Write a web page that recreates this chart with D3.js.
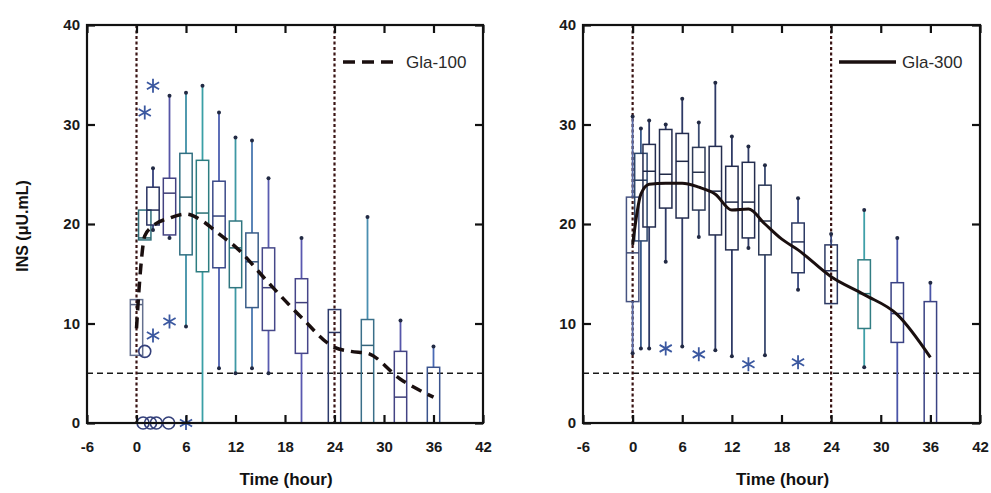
<!DOCTYPE html>
<html>
<head>
<meta charset="utf-8">
<script src="https://cdn.jsdelivr.net/npm/d3@7"></script>
<style>
  body { margin: 0; background: #fff; }
  svg { display: block; }
  text { font-family: "Liberation Sans", Arial, sans-serif; }
</style>
</head>
<body>
<div id="chart"></div>
<script>
// ---- data ----
var xTicks = [-6, 0, 6, 12, 18, 24, 30, 36, 42];
var yTicks = [0, 10, 20, 30, 40];
var refTimes = [0, 24];
var refLevel = 5;

// Gla-100 (left)
var g100Times = [0, 1, 2, 4, 6, 8, 10, 12, 14, 16, 20, 24, 28, 32, 36];
var g100Hi  = [12.4, 21.4, 25.6, 32.9, 33.2, 33.9, 31.2, 28.7, 28.4, 24.6, 18.6, 11.4, 20.7, 10.3, 7.7];
var g100Q3  = [12.4, 21.4, 23.7, 24.6, 27.1, 26.4, 24.3, 20.3, 19.1, 17.6, 14.5, 11.4, 10.4, 7.2, 5.6];
var g100Med = [11.9, 18.6, 21.4, 23.1, 22.7, 21.1, 20.8, 17.6, 16.2, 13.6, 12.1, 9.1, 7.8, 2.6, 0];
var g100Q1  = [6.8, 18.4, 19.9, 18.9, 16.9, 15.2, 15.6, 13.6, 11.6, 9.3, 7.0, 0, 0, 0, 0];
var g100Lo  = [6.8, 18.4, 19.4, 18.6, 9.7, 0, 5.5, 5.0, 5.5, 5.0, 0, 0, 0, 0, 0];
var g100CircT = [1, 0.8, 1.7, 2.4, 3.9];
var g100CircV = [7.2, 0, 0, 0, 0];
var g100StarT = [1, 2, 2, 4, 6];
var g100StarV = [31.2, 33.9, 8.8, 10.2, 0];
var g100MeanT = [0, 0.5, 1, 2, 4, 6, 8, 10, 12, 16, 20, 24, 26, 28, 32, 36];
var g100MeanV = [9.5, 15.5, 18.8, 19.8, 20.6, 21.0, 20.3, 19.0, 17.7, 14.1, 10.6, 7.6, 7.2, 7.0, 4.4, 2.6];

// Gla-300 (right)
var g300Times = [0, 1, 2, 4, 6, 8, 10, 12, 14, 16, 20, 24, 28, 32, 36];
var g300Hi  = [30.8, 29.6, 30.4, 30.0, 32.6, 30.2, 34.2, 28.8, 27.8, 25.9, 22.6, 19.0, 21.4, 18.6, 14.1];
var g300Q3  = [22.7, 27.1, 28.0, 29.5, 29.1, 27.7, 27.8, 25.8, 26.2, 23.9, 20.1, 17.9, 16.4, 14.1, 12.2];
var g300Med = [17.1, 24.4, 25.3, 25.0, 26.3, 25.2, 23.3, 22.2, 22.2, 20.3, 18.2, 15.3, 13.0, 11.0, 0];
var g300Q1  = [12.2, 18.3, 19.7, 21.6, 20.6, 21.4, 18.9, 17.4, 18.6, 16.9, 15.1, 12.0, 9.5, 8.1, 0];
var g300Lo  = [7.0, 7.5, 7.5, 16.2, 7.7, 18.7, 7.3, 6.7, 17.6, 6.8, 13.4, 12.0, 5.6, 0, 0];
var g300CircT = [];
var g300CircV = [];
var g300StarT = [4, 8, 14, 20];
var g300StarV = [7.5, 6.9, 5.9, 6.1];
var g300MeanT = [0, 1, 2, 4, 6, 8, 10, 12, 14, 16, 18, 20, 24, 28, 32, 36];
var g300MeanV = [17.9, 23.0, 24.0, 24.1, 24.1, 23.7, 23.0, 21.4, 21.5, 20.0, 18.5, 17.4, 14.7, 12.9, 10.9, 6.6];

// whisker colours per box
var g100Colors = ['#8090b8', '#3c8f9c', '#35407c', '#5655a6', '#3f8fa6', '#3aa0a6', '#4c5fb0', '#3e98a4',
                  '#4a78b0', '#5a5cb0', '#5a58b0', '#3a4a8a', '#4a8fb0', '#5656aa', '#4a6ab5'];
var g300Colors = ['#5a6aa5', '#3a5a8a', '#2e3a66', '#2e3a66', '#2e3a66', '#3a4a70', '#2e3a66', '#2e3a66',
                  '#2e3a66', '#3a4a70', '#3a4a80', '#3a4a80', '#3fa0a8', '#4a55a8', '#4a55a8'];

var width = 991, height = 493;

var svg = d3.select('#chart').append('svg')
    .attr('width', width)
    .attr('height', height);

// y axis title (shared, left)
svg.append('text')
    .attr('transform', 'translate(28,226) rotate(-90)')
    .attr('text-anchor', 'middle')
    .style('font-size', '16px')
    .style('font-weight', 'bold')
    .attr('fill', '#111')
    .text('INS (\u03bcU.mL)');

function zip(a, b) { return a.map(function(d, i) { return [d, b[i]]; }); }

function drawPanel(p) {

  var x = d3.scaleLinear().domain([-6, 42]).range([p.left, p.right]);
  var y = d3.scaleLinear().domain([0, 40]).range([423, 25]);
  var boxW = x(1.5) - x(0);

  var g = svg.append('g');

  // reference lines
  g.append('line')
      .attr('x1', x(-6)).attr('x2', x(42))
      .attr('y1', y(refLevel)).attr('y2', y(refLevel))
      .attr('stroke', '#1a1a1a').attr('stroke-width', 1.5)
      .attr('stroke-dasharray', '6,4');

  g.selectAll('.vref').data(refTimes).enter().append('line')
      .attr('x1', function(d) { return x(d); }).attr('x2', function(d) { return x(d); })
      .attr('y1', y(40)).attr('y2', y(0))
      .attr('stroke', '#3a1414').attr('stroke-width', 2.2)
      .attr('stroke-dasharray', '3,2.5');

  // boxes
  var boxes = p.times.map(function(t, i) {
    return { t: t, hi: p.hi[i], q3: p.q3[i], med: p.med[i], q1: p.q1[i], lo: p.lo[i], c: p.colors[i] };
  });

  var bg = g.selectAll('.box').data(boxes).enter().append('g').attr('class', 'box');

  bg.append('line')
      .attr('x1', function(d) { return x(d.t); }).attr('x2', function(d) { return x(d.t); })
      .attr('y1', function(d) { return y(d.hi); }).attr('y2', function(d) { return y(d.q3); })
      .attr('stroke', function(d) { return d.c; }).attr('stroke-width', 1.8);

  bg.append('line')
      .attr('x1', function(d) { return x(d.t); }).attr('x2', function(d) { return x(d.t); })
      .attr('y1', function(d) { return y(d.q1); }).attr('y2', function(d) { return y(d.lo); })
      .attr('stroke', function(d) { return d.c; }).attr('stroke-width', 1.8);

  bg.filter(function(d) { return d.hi > d.q3; }).append('circle')
      .attr('cx', function(d) { return x(d.t); })
      .attr('cy', function(d) { return y(d.hi); })
      .attr('r', 2).attr('fill', '#222a44');

  bg.filter(function(d) { return d.lo < d.q1 && d.lo > 0; }).append('circle')
      .attr('cx', function(d) { return x(d.t); })
      .attr('cy', function(d) { return y(d.lo); })
      .attr('r', 2).attr('fill', '#222a44');

  bg.append('rect')
      .attr('x', function(d) { return x(d.t) - boxW / 2; })
      .attr('y', function(d) { return y(d.q3); })
      .attr('width', boxW)
      .attr('height', function(d) { return y(d.q1) - y(d.q3); })
      .attr('fill', 'none')
      .attr('stroke', function(d) { return d3.color(d.c).darker(0.7); })
      .attr('stroke-width', 1.5);

  bg.filter(function(d) { return d.med > 0; }).append('line')
      .attr('x1', function(d) { return x(d.t) - boxW / 2; })
      .attr('x2', function(d) { return x(d.t) + boxW / 2; })
      .attr('y1', function(d) { return y(d.med); }).attr('y2', function(d) { return y(d.med); })
      .attr('stroke', function(d) { return d3.color(d.c).darker(1); })
      .attr('stroke-width', 1.5);

  // outliers
  g.selectAll('.circ').data(zip(p.circT, p.circV)).enter().append('circle')
      .attr('cx', function(d) { return x(d[0]); })
      .attr('cy', function(d) { return y(d[1]); })
      .attr('r', 6)
      .attr('fill', 'none')
      .attr('stroke', '#34407a').attr('stroke-width', 1.6);

  var star = 'M0,-7L0,7M-6.1,-3.5L6.1,3.5M-6.1,3.5L6.1,-3.5';
  g.selectAll('.star').data(zip(p.starT, p.starV)).enter().append('path')
      .attr('transform', function(d) { return 'translate(' + x(d[0]) + ',' + y(d[1]) + ')'; })
      .attr('d', star)
      .attr('fill', 'none')
      .attr('stroke', '#3b58a0').attr('stroke-width', 1.8);

  // mean line
  var line = d3.line()
      .x(function(d) { return x(d[0]); })
      .y(function(d) { return y(d[1]); })
      .curve(d3.curveMonotoneX);

  g.append('path')
      .datum(zip(p.meanT, p.meanV))
      .attr('d', line)
      .attr('fill', 'none')
      .attr('stroke', '#1a0f0f')
      .attr('stroke-width', p.dashed ? 3.5 : 3)
      .attr('stroke-dasharray', p.dashed ? '11,7' : null);

  // axes (inward ticks)
  var fmt = function(d) { return String(d); };
  var bottom = g.append('g').attr('transform', 'translate(0,' + y(0) + ')')
      .call(d3.axisBottom(x).tickValues(xTicks).tickSize(-8).tickPadding(18).tickFormat(fmt));
  var left = g.append('g').attr('transform', 'translate(' + x(-6) + ',0)')
      .call(d3.axisLeft(y).tickValues(yTicks).tickSize(-8).tickPadding(7).tickFormat(fmt));
  var top = g.append('g').attr('transform', 'translate(0,' + y(40) + ')')
      .call(d3.axisTop(x).tickValues(xTicks).tickSize(-8).tickFormat(''));
  var right = g.append('g').attr('transform', 'translate(' + x(42) + ',0)')
      .call(d3.axisRight(y).tickValues(yTicks).tickSize(-8).tickFormat(''));

  [bottom, left, top, right].forEach(function(a) {
    a.select('.domain').remove();
    a.selectAll('.tick line').attr('stroke', '#111').attr('stroke-width', 2.2);
    a.selectAll('.tick text')
        .attr('fill', '#1a1a1a')
        .style('font-size', '15px')
        .style('font-weight', 'bold')
        .style('font-family', '"Liberation Sans", Arial, sans-serif');
  });

  g.append('rect')
      .attr('x', x(-6)).attr('y', y(40))
      .attr('width', x(42) - x(-6)).attr('height', y(0) - y(40))
      .attr('fill', 'none')
      .attr('stroke', '#111').attr('stroke-width', 2.2);

  // x title
  g.append('text')
      .attr('x', (x(-6) + x(42)) / 2 + 1)
      .attr('y', 485)
      .attr('text-anchor', 'middle')
      .style('font-size', '17px')
      .style('font-weight', 'bold')
      .attr('fill', '#111')
      .text('Time (hour)');

  // legend
  g.append('line')
      .attr('x1', p.legX).attr('x2', p.legX + 57)
      .attr('y1', 62).attr('y2', 62)
      .attr('stroke', '#1a0f0f')
      .attr('stroke-width', 3.5)
      .attr('stroke-dasharray', p.dashed ? '12,7' : null);

  g.append('text')
      .attr('x', p.legX + 63)
      .attr('y', 68)
      .style('font-size', '17px')
      .attr('fill', '#2a2a2a')
      .text(p.name);
}

drawPanel({
  left: 87, right: 483, name: 'Gla-100', dashed: true, legX: 343,
  times: g100Times, hi: g100Hi, q3: g100Q3, med: g100Med, q1: g100Q1, lo: g100Lo, colors: g100Colors,
  circT: g100CircT, circV: g100CircV, starT: g100StarT, starV: g100StarV,
  meanT: g100MeanT, meanV: g100MeanV
});

drawPanel({
  left: 583, right: 980, name: 'Gla-300', dashed: false, legX: 839,
  times: g300Times, hi: g300Hi, q3: g300Q3, med: g300Med, q1: g300Q1, lo: g300Lo, colors: g300Colors,
  circT: g300CircT, circV: g300CircV, starT: g300StarT, starV: g300StarV,
  meanT: g300MeanT, meanV: g300MeanV
});
</script>
</body>
</html>
